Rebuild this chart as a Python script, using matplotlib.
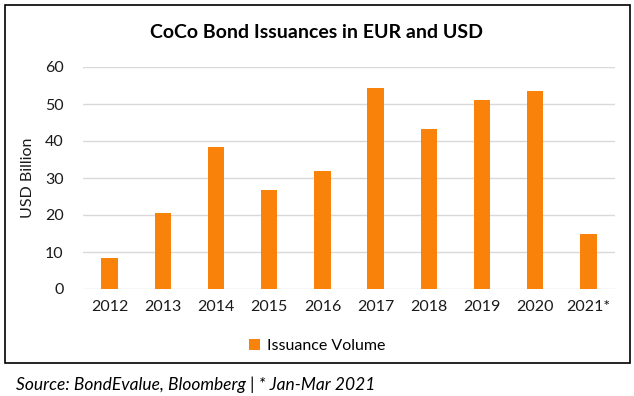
import matplotlib
matplotlib.use("Agg")
from matplotlib import pyplot as plt
from matplotlib.patches import Rectangle

years = ["2012", "2013", "2014", "2015", "2016", "2017", "2018", "2019", "2020", "2021*"]
volume = [8.3, 20.5, 38.3, 26.7, 31.8, 54.3, 43.2, 51.1, 53.5, 14.8]
yticks = [0, 10, 20, 30, 40, 50, 60]

orange = "#F8820A"
plt.rcParams['font.family'] = ['Lato', 'DejaVu Sans']

fig = plt.figure(figsize=(6.34, 3.96), dpi=100)
W, H = 634, 396
ax = fig.add_axes([83 / W, 1 - 289 / H, (615 - 83) / W, (289 - 67) / H])

x = list(range(len(years)))
ax.bar(x, volume, width=0.31, color=orange, zorder=3, label="Issuance Volume")
ax.set_xlim(-0.5, len(years) - 0.5)
ax.set_ylim(0, 60)
ax.set_yticks(yticks)
ax.set_xticks(x)
ax.set_xticklabels(years)
ax.grid(axis='y', color="#D9D9D9", linewidth=1, zorder=0)
for s in ax.spines.values():
    s.set_visible(False)
ax.tick_params(length=0, labelsize=11.5, colors="#1a1a1a", pad=8)
ax.tick_params(axis='y', pad=14)
ax.set_ylabel("USD Billion", fontsize=11.5, color="#1a1a1a", labelpad=7)

# chart frame
fig.patches.append(Rectangle((5 / W, 1 - 363 / H), 625 / W, 358 / H, transform=fig.transFigure,
                             fill=False, edgecolor="black", linewidth=1.2))

fig.text(0.5, 1 - 32 / H, "CoCo Bond Issuances in EUR and USD", ha='center', va='center',
         fontsize=14, fontweight='bold', color="black")

leg = fig.legend(loc='center', bbox_to_anchor=(0.5, 1 - 346 / H), frameon=False, fontsize=11.5,
                 handlelength=0.7, handleheight=0.7, handletextpad=0.4)

fig.text(16 / W, 1 - 385 / H, "Source: BondEvalue, Bloomberg | * Jan-Mar 2021", ha='left', va='center',
         fontsize=12.5, style='italic', color="black")

fig.savefig("out.png", dpi=100)
